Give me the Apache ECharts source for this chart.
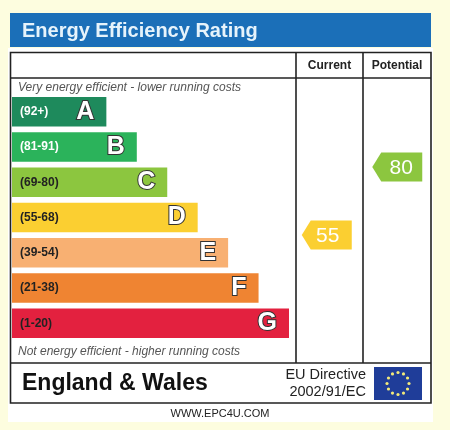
<!DOCTYPE html>
<html><head><meta charset="utf-8">
<script src="https://cdn.jsdelivr.net/npm/echarts@6/dist/echarts.min.js"></script>
<style>html,body{margin:0;padding:0;background:#fdfddf;}#c{width:450px;height:430px;}</style>
</head><body><div id="c"></div>
<script>
var bandLetters = ['A','B','C','D','E','F','G'];
var bandRanges = ['(92+)','(81-91)','(69-80)','(55-68)','(39-54)','(21-38)','(1-20)'];
var bandMins = [92,81,69,55,39,21,1];
var bandLengths = [31,41,51,61,71,81,91];
var bandColors = ['#1e8a5c','#2bb35b','#8cc63f','#fbcf31','#f8b072','#ef8432','#e3213f'];
var rangeTextColors = ['#ffffff','#ffffff','#222222','#222222','#222222','#222222','#222222'];
var ratingColumns = ['Current','Potential'];
var ratingValues = [55, 80];

function bandIndex(v){ for (var i=0;i<bandMins.length;i++){ if (v>=bandMins[i]) return i; } return 6; }

var FONT = 'Liberation Sans, Arial, sans-serif';
var chart = echarts.init(document.getElementById('c'));

var stars = [];
for (var k=0;k<12;k++){
  var a = k*Math.PI/6;
  stars.push({type:'circle', shape:{cx:398+11*Math.cos(a), cy:383.5+11*Math.sin(a), r:1.6}, style:{fill:'#f3ea7a'}, z:10});
}

chart.setOption({
  animation:false,
  backgroundColor:'#fdfddf',
  graphic:[
    {type:'rect', shape:{x:8,y:48,width:425,height:374}, style:{fill:'#ffffff'}, z:-10},
    {type:'rect', shape:{x:10,y:13,width:421,height:34}, style:{fill:'#1b6fb8'}, z:1},
    {type:'text', style:{x:22,y:31,text:'Energy Efficiency Rating', fill:'#e6f3fb', font:'bold 20px '+FONT, textVerticalAlign:'middle'}, z:2},
    {type:'rect', shape:{x:10.5,y:52.5,width:420.5,height:350.5}, style:{fill:null, stroke:'#222', lineWidth:1.6}, z:5},
    {type:'line', shape:{x1:10,y1:78,x2:431,y2:78}, style:{stroke:'#222', lineWidth:1.6}, z:5},
    {type:'line', shape:{x1:10,y1:363,x2:431,y2:363}, style:{stroke:'#222', lineWidth:1.6}, z:5},
    {type:'line', shape:{x1:296,y1:52,x2:296,y2:363}, style:{stroke:'#222', lineWidth:1.6}, z:5},
    {type:'line', shape:{x1:363,y1:52,x2:363,y2:363}, style:{stroke:'#222', lineWidth:1.6}, z:5},
    {type:'text', style:{x:329.5,y:65.5,text:'Current', fill:'#222', font:'bold 12px '+FONT, textAlign:'center', textVerticalAlign:'middle'}, z:6},
    {type:'text', style:{x:397,y:65.5,text:'Potential', fill:'#222', font:'bold 12px '+FONT, textAlign:'center', textVerticalAlign:'middle'}, z:6},
    {type:'text', style:{x:18,y:88,text:'Very energy efficient - lower running costs', fill:'#555', font:'italic 12px '+FONT, textVerticalAlign:'middle'}, z:6},
    {type:'text', style:{x:18,y:352,text:'Not energy efficient - higher running costs', fill:'#555', font:'italic 12px '+FONT, textVerticalAlign:'middle'}, z:6},
    {type:'text', style:{x:22,y:384,text:'England & Wales', fill:'#111', font:'bold 23px '+FONT, textVerticalAlign:'middle'}, z:6},
    {type:'text', style:{x:366,y:374.5,text:'EU Directive', fill:'#222', font:'14.5px '+FONT, textAlign:'right', textVerticalAlign:'middle'}, z:6},
    {type:'text', style:{x:366,y:392,text:'2002/91/EC', fill:'#222', font:'14.5px '+FONT, textAlign:'right', textVerticalAlign:'middle'}, z:6},
    {type:'rect', shape:{x:374,y:367,width:48,height:33}, style:{fill:'#1f3d99'}, z:8},
    {type:'text', style:{x:220,y:414,text:'WWW.EPC4U.COM', fill:'#222', font:'11px '+FONT, textAlign:'center', textVerticalAlign:'middle'}, z:6}
  ].concat(stars),
  grid:[
    {left:12, width:277, top:94, height:247, containLabel:false},
    {left:296, width:135, top:112.6, height:272, containLabel:false}
  ],
  xAxis:[
    {gridIndex:0, type:'value', min:0, max:91, show:false},
    {gridIndex:1, type:'category', data:ratingColumns, show:false}
  ],
  yAxis:[
    {gridIndex:0, type:'category', data:bandLetters, inverse:true, show:false},
    {gridIndex:1, type:'value', min:0, max:100, show:false}
  ],
  series:[
    {type:'bar', xAxisIndex:0, yAxisIndex:0, barWidth:29.5, z:3,
     data: bandLengths.map(function(v,i){ return {value:v, itemStyle:{color:bandColors[i]},
        label:{color:rangeTextColors[i]}}; }),
     label:{show:true, position:'insideLeft', distance:8, fontFamily:FONT, fontWeight:'bold', fontSize:12,
       formatter:function(p){ return bandRanges[p.dataIndex]; }}
    },
    {type:'bar', xAxisIndex:0, yAxisIndex:0, barWidth:29.5, barGap:'-100%', z:4,
     data: bandLengths.slice(),
     itemStyle:{color:'rgba(0,0,0,0)'},
     label:{show:true, position:'insideRight', distance:12, fontFamily:FONT, fontWeight:'bold', fontSize:25,
       color:'#ffffff', textBorderColor:'#333', textBorderWidth:2,
       formatter:function(p){ return bandLetters[p.dataIndex]; }}
    },
    {type:'scatter', xAxisIndex:1, yAxisIndex:1, z:6,
     symbol:'path://M0,14 L9,0 L50,0 L50,28 L9,28 Z', symbolSize:[50,29],
     data: ratingValues.map(function(v,i){ return {value:[ratingColumns[i], v],
        symbolOffset:[i===0?-3:0,0], itemStyle:{color:bandColors[bandIndex(v)], opacity:1},
        label:{offset:[i===0?1:4,1]}}; }),
     itemStyle:{opacity:1},
     label:{show:true, position:'inside', color:'#fff', fontFamily:FONT, fontSize:21,
       formatter:function(p){ return p.value[1]; }}
    }
  ]
});
</script></body></html>
